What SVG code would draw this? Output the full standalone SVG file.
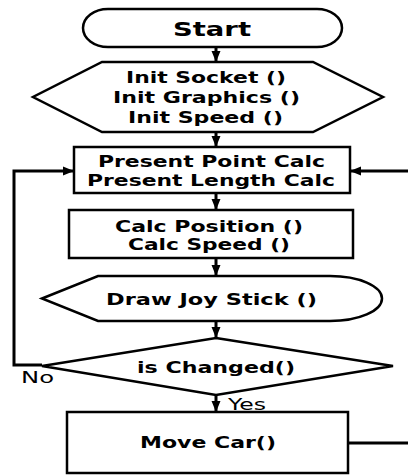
<svg xmlns="http://www.w3.org/2000/svg" width="408" height="475" viewBox="0 0 408 475">
<defs>
<style>
.s{fill:#fff;stroke:#000;stroke-width:2.5}
.t{font-family:"DejaVu Sans","Liberation Sans",sans-serif;font-weight:bold;fill:#000;text-anchor:middle}
.l{font-family:"DejaVu Sans","Liberation Sans",sans-serif;fill:#000;font-size:15px}
.c{fill:none;stroke:#000;stroke-width:3}
</style>
<marker id="ah" markerUnits="userSpaceOnUse" markerWidth="12" markerHeight="12" viewBox="0 0 12 12" refX="11" refY="6" orient="auto">
<path d="M0,1.5 L11,6 L0,10.5 Z" fill="#000"/>
</marker>
</defs>
<g id="connectors">
<path class="c" d="M216,47 V62" marker-end="url(#ah)"/>
<path class="c" d="M216,132 V147" marker-end="url(#ah)"/>
<path class="c" d="M216,193 V210" marker-end="url(#ah)"/>
<path class="c" d="M216,258 V276" marker-end="url(#ah)"/>
<path class="c" d="M216,321 V338" marker-end="url(#ah)"/>
<path class="c" d="M216,395 V412" marker-end="url(#ah)"/>
<path class="c" d="M42,365 H14 V171 H74" marker-end="url(#ah)"/>
<path class="c" d="M348,443 H408"/>
<path class="c" d="M408,171 H350" marker-end="url(#ah)"/>
<text class="l" x="21" y="383" textLength="33" lengthAdjust="spacingAndGlyphs">No</text>
<text class="l" x="228" y="410" textLength="38" lengthAdjust="spacingAndGlyphs">Yes</text>
</g>
<g id="start">
<path class="s" d="M108,9 H317 A25,19 0 0 1 317,47 H108 A25,19 0 0 1 108,9 Z"/>
<text class="t" x="212" y="36" font-size="20" textLength="78" lengthAdjust="spacingAndGlyphs">Start</text>
</g>
<g id="init">
<polygon class="s" points="102,62 313,62 383,97 313,132 102,132 33,97"/>
<text class="t" x="206" y="83" font-size="15" textLength="160" lengthAdjust="spacingAndGlyphs">Init Socket ()</text>
<text class="t" x="206.5" y="103" font-size="15" textLength="187" lengthAdjust="spacingAndGlyphs">Init Graphics ()</text>
<text class="t" x="205.5" y="123" font-size="15" textLength="155" lengthAdjust="spacingAndGlyphs">Init Speed ()</text>
</g>
<g id="present">
<rect class="s" x="74" y="147" width="276" height="46"/>
<text class="t" x="211.5" y="167" font-size="15" textLength="227" lengthAdjust="spacingAndGlyphs">Present Point Calc</text>
<text class="t" x="211" y="186" font-size="15" textLength="248" lengthAdjust="spacingAndGlyphs">Present Length Calc</text>
</g>
<g id="calc">
<rect class="s" x="69" y="210" width="284" height="48"/>
<text class="t" x="209" y="232" font-size="15" textLength="188" lengthAdjust="spacingAndGlyphs">Calc Position ()</text>
<text class="t" x="209" y="250" font-size="15" textLength="162" lengthAdjust="spacingAndGlyphs">Calc Speed ()</text>
</g>
<g id="draw">
<path class="s" d="M42,298.5 L98,276 H330 A52,22.5 0 0 1 330,321 H98 Z"/>
<text class="t" x="211.5" y="305" font-size="15" textLength="211" lengthAdjust="spacingAndGlyphs">Draw Joy Stick ()</text>
</g>
<g id="changed">
<polygon class="s" points="216,338 393,366 216,395 42,366"/>
<text class="t" x="216" y="373" font-size="15" textLength="158" lengthAdjust="spacingAndGlyphs">is Changed()</text>
</g>
<g id="move">
<rect class="s" x="67" y="412" width="281" height="61"/>
<text class="t" x="208" y="448" font-size="15" textLength="136" lengthAdjust="spacingAndGlyphs">Move Car()</text>
</g>
</svg>
